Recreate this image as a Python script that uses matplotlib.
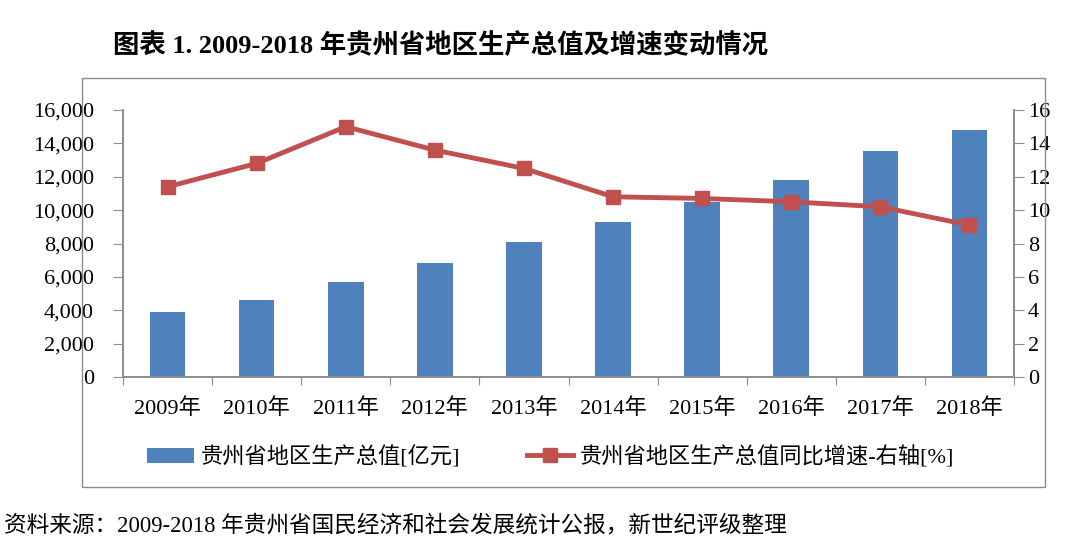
import matplotlib
matplotlib.use('Agg')
import matplotlib.pyplot as plt
from matplotlib.patches import Rectangle

plt.rcParams['font.family'] = ['Liberation Serif', 'Noto Sans CJK SC']

#data
years = ['2009年', '2010年', '2011年', '2012年', '2013年',
         '2014年', '2015年', '2016年', '2017年', '2018年']
gdp = [3913, 4602, 5702, 6852, 8087, 9266, 10503, 11777, 13541, 14806]
growth = [11.4, 12.8, 15.0, 13.6, 12.5, 10.8, 10.7, 10.5, 10.2, 9.1]

bar_color = '#4F81BD'
line_color = '#C0504D'
axis_color = '#8C8C8C'

fig = plt.figure(figsize=(10.8, 5.49), dpi=100)
ax = fig.add_axes([0.1139, 0.3133, 0.825, 0.4863])
ax2 = ax.twinx()

x = list(range(len(years)))
ax.bar(x, gdp, width=0.4, color=bar_color, label='贵州省地区生产总值[亿元]', zorder=2)
ax2.plot(x, growth, color=line_color, lw=3.5, marker='s', markersize=10,
         label='贵州省地区生产总值同比增速-右轴[%]', zorder=3)

ax.set_xlim(-0.5, len(years) - 0.5)
ax.set_ylim(0, 16000)
ax2.set_ylim(0, 16)
ax.set_yticks(range(0, 16001, 2000))
ax.set_yticklabels([f'{v:,}' for v in range(0, 16001, 2000)])
ax2.set_yticks(range(0, 17, 2))

# category boundary ticks and centred labels
ax.set_xticks([i + 0.5 for i in range(-1, len(years))])
ax.set_xticklabels([])
ax.set_xticks(x, minor=True)
ax.set_xticklabels(years, minor=True)
ax.tick_params(axis='x', which='major', length=6, color=axis_color, direction='out')
ax.tick_params(axis='x', which='minor', length=0, pad=15, labelsize=16)
ax.tick_params(axis='y', length=7, color=axis_color, pad=14, labelsize=16)
ax2.tick_params(axis='y', length=7, color=axis_color, pad=3, labelsize=16)

for a in (ax, ax2):
    a.spines['top'].set_visible(False)
    for s in ('left', 'right', 'bottom'):
        a.spines[s].set_color(axis_color)
        a.spines[s].set_linewidth(1.2)
ax2.set_zorder(ax.get_zorder() + 1)

# outer border
fig.patches.append(Rectangle((0.0759, 0.1129), 0.8917, 0.7451, transform=fig.transFigure,
                             fill=False, edgecolor=axis_color, lw=1))

h1, l1 = ax.get_legend_handles_labels()
h2, l2 = ax2.get_legend_handles_labels()
fig.legend(h1 + h2, l1 + l2, loc='center', bbox_to_anchor=(0.51, 0.1676), ncol=2,
           frameon=False, fontsize=16, handlelength=2.1, columnspacing=3.0,
           handletextpad=0.3)

fig.text(0.105, 0.918, '图表 1. 2009-2018 年贵州省地区生产总值及增速变动情况',
         fontsize=19, fontweight='bold', va='center', ha='left')
fig.text(0.004, 0.043, '资料来源：2009-2018 年贵州省国民经济和社会发展统计公报，新世纪评级整理',
         fontsize=16.3, va='center', ha='left')

fig.savefig('out.png', dpi=100)
